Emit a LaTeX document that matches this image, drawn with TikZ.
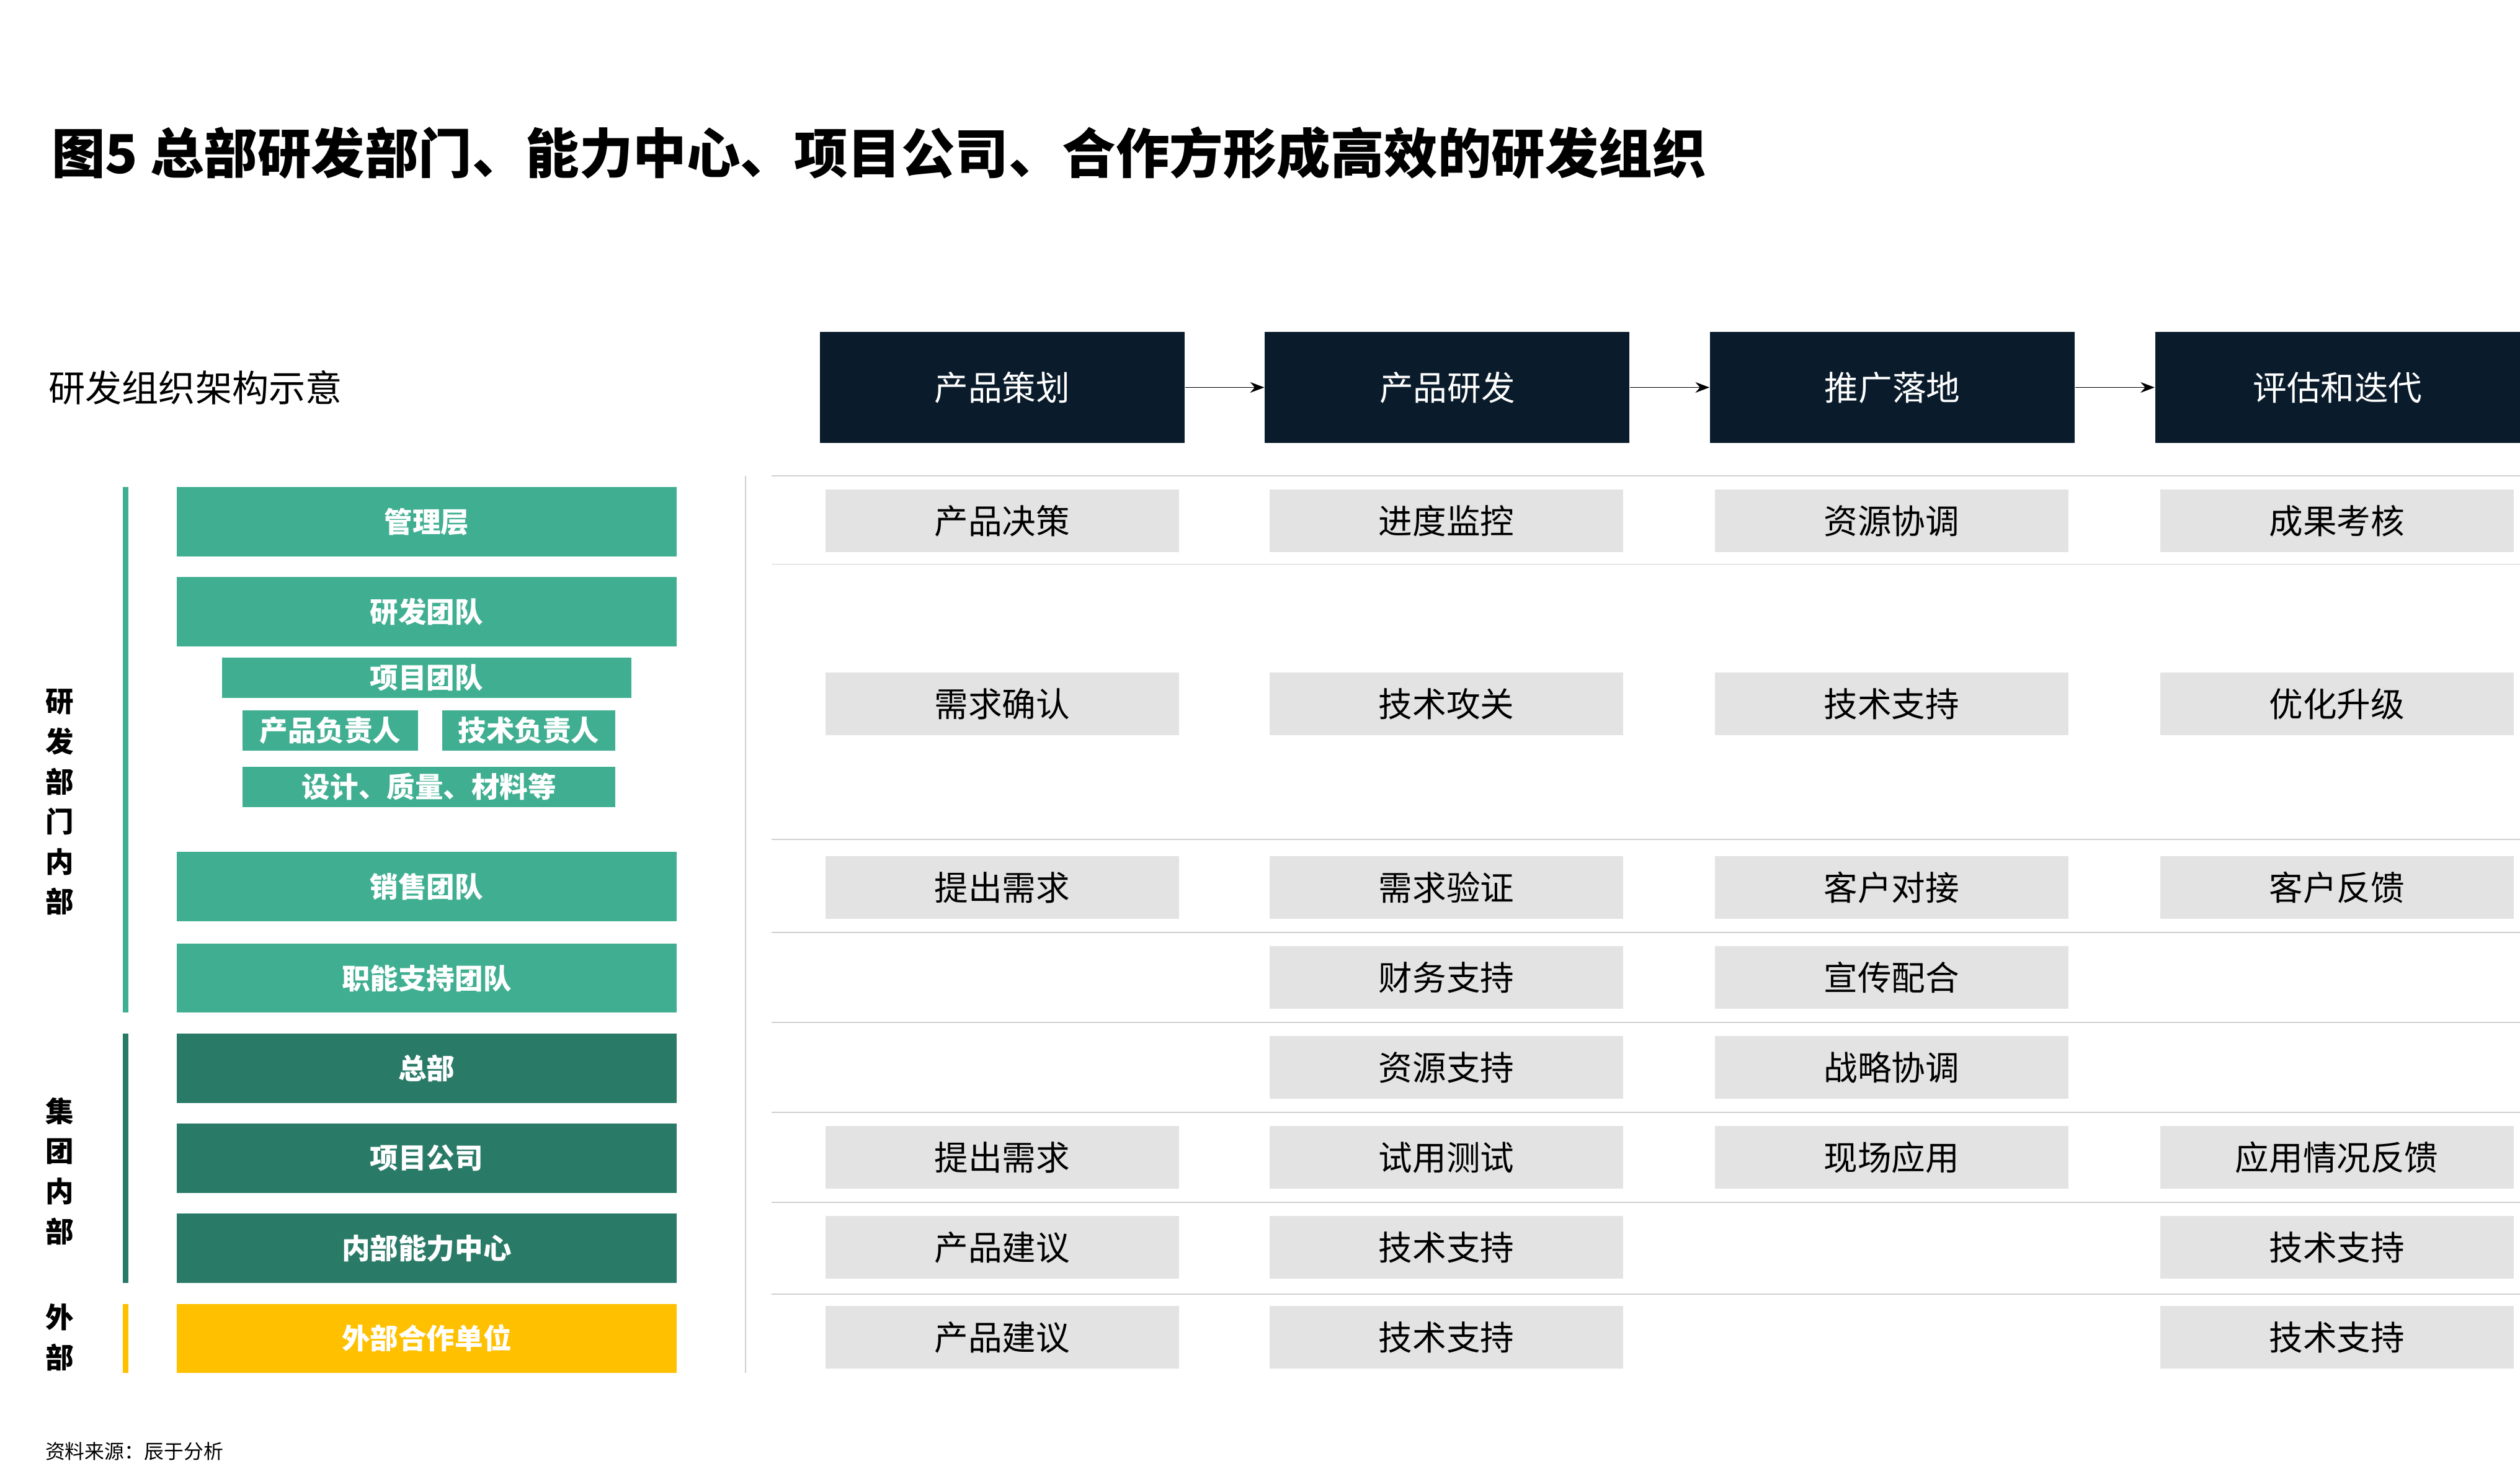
\documentclass[tikz,border=0pt]{standalone}
\usepackage{fontspec}
\setmainfont{Noto Sans CJK SC}
\usetikzlibrary{arrows.meta,positioning}
\definecolor{navy}{HTML}{0A1C2B}
\definecolor{tealL}{HTML}{3FAE91}
\definecolor{tealD}{HTML}{2A7A68}
\definecolor{gold}{HTML}{FFC000}
\definecolor{cellgray}{HTML}{E3E3E3}
\definecolor{linegray}{HTML}{D0D0D0}
\tikzset{
  headbox/.style={fill=navy, text=white, minimum width=4.54cm, minimum height=1.38cm, font=\fontsize{12}{14}\selectfont},
  cellbox/.style={fill=cellgray, minimum width=4.4cm, minimum height=0.78cm, font=\fontsize{12}{14}\selectfont},
  orgbox/.style={fill=#1, text=white, minimum width=6.22cm, minimum height=0.86cm, font=\fontsize{10}{12}\selectfont\bfseries},
  subbox/.style={fill=tealL, text=white, inner sep=0pt, font=\fontsize{10}{12}\selectfont\bfseries},
}
\begin{document}
\begin{tikzpicture}[x=0.02cm, y=-0.02cm]
    \useasboundingbox (0,0) rectangle (1568,920);

    % title
    \node[anchor=west, font=\fontsize{19}{22}\selectfont\bfseries] (title) at (26,95) {图5 总部研发部门、能力中心、项目公司、合作方形成高效的研发组织};
    \node[anchor=west, font=\fontsize{13}{15}\selectfont] (subtitle) at (24,241) {研发组织架构示意};
    \node[anchor=west, font=\fontsize{7}{8}\selectfont] (source) at (22,903) {资料来源：辰于分析};

    % stage headers
    \node[headbox] (h1) at (623.5,241) {产品策划};
    \node[headbox] (h2) at (900.5,241) {产品研发};
    \node[headbox] (h3) at (1177.5,241) {推广落地};
    \node[headbox] (h4) at (1454.5,241) {评估和迭代};
    \foreach \a/\b in {h1/h2, h2/h3, h3/h4}
        \draw[-{Stealth[length=5pt]}, thin] (\a.east) -- (\b.west);

    % separators
    \draw[linegray] (464,296) -- (464,854);
    \foreach \y in {296,351,522,580,636,692,748,805}
        \draw[linegray] (480,\y) -- (1568,\y);

    % left organisation
    \node[orgbox=tealL] (mgmt) at (265.5,324.5) {管理层};
    \node[orgbox=tealL] (rnd) at (265.5,380.5) {研发团队};
    \node[subbox, minimum width=5.1cm, minimum height=0.5cm] (proj) at (265.5,421.5) {项目团队};
    \node[subbox, minimum width=2.18cm, minimum height=0.5cm] (pm) at (205.5,454.5) {产品负责人};
    \node[subbox, minimum width=2.16cm, minimum height=0.5cm] (tm) at (329,454.5) {技术负责人};
    \node[subbox, minimum width=4.64cm, minimum height=0.5cm] (qa) at (267,489.5) {设计、质量、材料等};
    \node[orgbox=tealL] (sales) at (265.5,551.5) {销售团队};
    \node[orgbox=tealL] (supp) at (265.5,608.5) {职能支持团队};
    \node[orgbox=tealD] (hq) at (265.5,664.5) {总部};
    \node[orgbox=tealD] (pc) at (265.5,720.5) {项目公司};
    \node[orgbox=tealD] (cc) at (265.5,776.5) {内部能力中心};
    \node[orgbox=gold] (ext) at (265.5,832.5) {外部合作单位};

    % side bars and labels
    \draw[tealL, line width=2pt] (78,303) -- (78,630);
    \draw[tealD, line width=2pt] (78,643) -- (78,798);
    \draw[gold, line width=2pt] (78,811) -- (78,854);
    \node[align=center, font=\fontsize{10}{14.2}\selectfont\bfseries] (lab1) at (37,499) {研\\发\\部\\门\\内\\部};
    \node[align=center, font=\fontsize{10}{14.2}\selectfont\bfseries] (lab2) at (37,728.5) {集\\团\\内\\部};
    \node[align=center, font=\fontsize{10}{14.2}\selectfont\bfseries] (lab3) at (37,832) {外\\部};

    % cells
    \foreach \y/\a/\b/\c/\d in {324/产品决策/进度监控/资源协调/成果考核,
                              438/需求确认/技术攻关/技术支持/优化升级,
                              552/提出需求/需求验证/客户对接/客户反馈,
                              720/提出需求/试用测试/现场应用/应用情况反馈}{
        \node[cellbox] (c1-\y) at (623.5,\y) {\a};
        \node[cellbox] (c2-\y) at (900,\y) {\b};
        \node[cellbox] (c3-\y) at (1177,\y) {\c};
        \node[cellbox] (c4-\y) at (1454,\y) {\d};
    }
    \foreach \y/\b/\c in {608/财务支持/宣传配合, 664/资源支持/战略协调}{
        \node[cellbox] (c2-\y) at (900,\y) {\b};
        \node[cellbox] (c3-\y) at (1177,\y) {\c};
    }
    \foreach \y in {776,832}{
        \node[cellbox] (c1-\y) at (623.5,\y) {产品建议};
        \node[cellbox] (c2-\y) at (900,\y) {技术支持};
        \node[cellbox] (c4-\y) at (1454,\y) {技术支持};
    }
\end{tikzpicture}
\end{document}
